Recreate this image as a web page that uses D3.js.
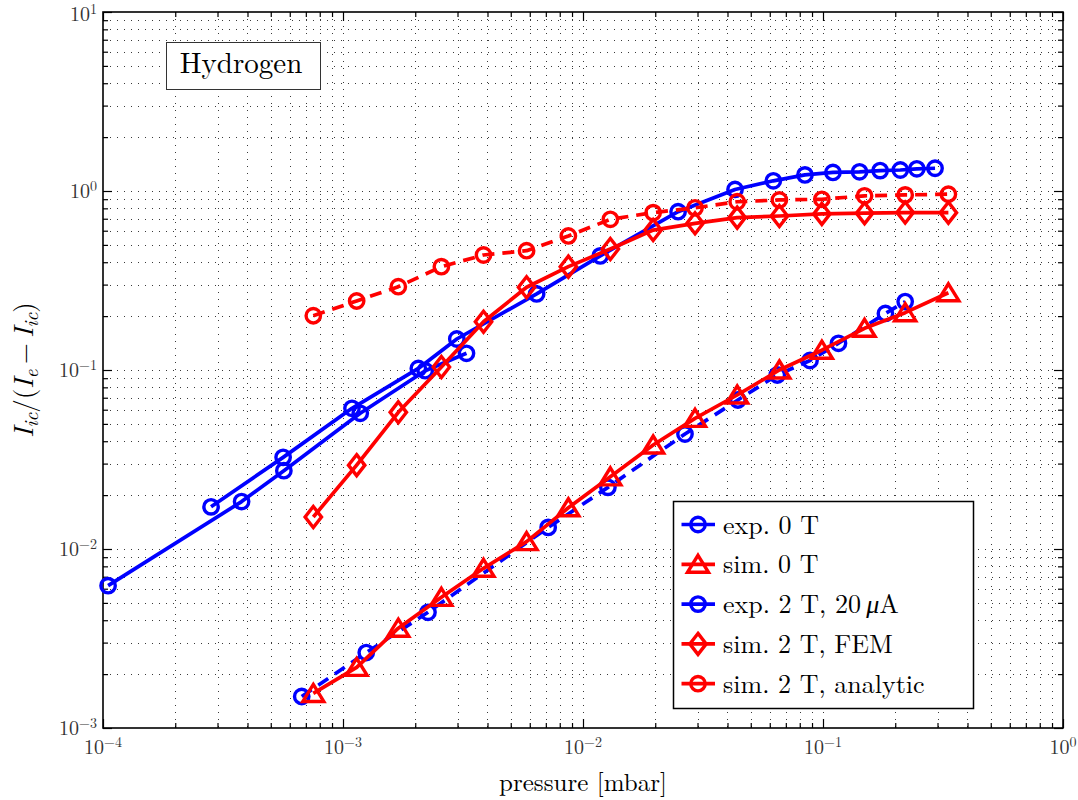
<!DOCTYPE html>
<html>
<head>
<meta charset="utf-8">
<script src="https://cdn.jsdelivr.net/npm/d3@7"></script>
<style>
  html, body { margin: 0; padding: 0; background: #fff; }
  svg { display: block; }
</style>
</head>
<body>
<svg id="chart" width="1078" height="800"></svg>
<script>
// Pressure grid shared by all simulation runs [mbar]
const pressureSim = [7.52e-4, 1.14e-3, 1.70e-3, 2.57e-3, 3.85e-3, 5.82e-3, 8.69e-3, 1.30e-2,
                     1.96e-2, 2.93e-2, 4.39e-2, 6.58e-2, 9.89e-2, 0.149, 0.220, 0.333];

// exp. 0 T
const pressureExp0 = [6.73e-4, 1.25e-3, 2.26e-3, 7.16e-3, 1.27e-2, 2.66e-2, 4.42e-2, 6.45e-2,
                      8.83e-2, 0.116, 0.182, 0.220];
const ratioExp0 = [1.50e-3, 2.64e-3, 4.43e-3, 1.32e-2, 2.21e-2, 4.39e-2, 6.80e-2, 9.38e-2,
                   0.113, 0.141, 0.207, 0.241];

// sim. 0 T
const ratioSim0 = [1.56e-3, 2.18e-3, 3.61e-3, 5.37e-3, 7.80e-3, 1.10e-2, 1.70e-2, 2.53e-2,
                   3.81e-2, 5.37e-2, 7.25e-2, 0.100, 0.129, 0.171, 0.209, 0.270];

// exp. 2 T, 20 uA : two pressure sweeps
const pressureExp2a = [1.05e-4, 3.78e-4, 5.67e-4, 1.18e-3, 2.20e-3, 3.27e-3];
const ratioExp2a = [6.24e-3, 1.84e-2, 2.74e-2, 5.73e-2, 9.91e-2, 0.124];
const pressureExp2b = [2.82e-4, 5.63e-4, 1.09e-3, 2.06e-3, 2.98e-3, 6.41e-3, 1.18e-2, 2.49e-2,
                       4.30e-2, 6.21e-2, 8.41e-2, 0.110, 0.142, 0.173, 0.210, 0.246, 0.293];
const ratioExp2b = [1.72e-2, 3.25e-2, 6.11e-2, 0.102, 0.149, 0.266, 0.434, 0.766,
                    1.02, 1.14, 1.23, 1.27, 1.28, 1.30, 1.31, 1.33, 1.34];

// sim. 2 T, FEM
const ratioSimFem = [1.51e-2, 2.94e-2, 5.80e-2, 0.104, 0.186, 0.290, 0.378, 0.474,
                     0.605, 0.660, 0.710, 0.725, 0.745, 0.752, 0.758, 0.757];

// sim. 2 T, analytic
const ratioSimAnalytic = [0.201, 0.243, 0.292, 0.378, 0.439, 0.464, 0.561, 0.695,
                          0.757, 0.805, 0.871, 0.891, 0.899, 0.940, 0.951, 0.960];

// Axis decades (exponents of ten)
const xTickExponents = [-4, -3, -2, -1, 0];
const yTickExponents = [-3, -2, -1, 0, 1];

const legendLabels = ["exp. 0 T", "sim. 0 T", "exp. 2 T, 20\u2009", "sim. 2 T, FEM", "sim. 2 T, analytic"];

const BLUE = "#0000ff", RED = "#ff0000";
const SERIF = "Latin Modern Roman";

const svg = d3.select("#chart");
const plotLeft = 103, plotRight = 1063, plotTop = 12, plotBottom = 728;

const x = d3.scaleLog().domain([1e-4, 1]).range([plotLeft, plotRight]);
const y = d3.scaleLog().domain([1e-3, 10]).range([plotBottom, plotTop]);

// tick positions: every integer multiple within each decade
function decadeTicks(exps) {
  const out = [];
  for (let i = 0; i < exps.length - 1; i++)
    for (let k = 1; k <= 9; k++) out.push(k * Math.pow(10, exps[i]));
  out.push(Math.pow(10, exps[exps.length - 1]));
  return out;
}
const xAll = decadeTicks(xTickExponents);
const yAll = decadeTicks(yTickExponents);
const xMajor = xTickExponents.map(e => Math.pow(10, e));
const yMajor = yTickExponents.map(e => Math.pow(10, e));
const isMajor = (list, v) => list.some(m => Math.abs(m - v) / m < 1e-9);

svg.append("rect").attr("width", 1078).attr("height", 800).attr("fill", "#fff");

// dotted grid
const grid = svg.append("g")
  .attr("stroke", "#3a3a3a").attr("stroke-width", 1)
  .attr("stroke-dasharray", "1 6");
grid.selectAll("line.gx").data(xAll.slice(1, -1)).join("line").attr("class", "gx")
  .attr("x1", d => Math.round(x(d)) + 0.5).attr("x2", d => Math.round(x(d)) + 0.5)
  .attr("y1", plotTop).attr("y2", plotBottom);
grid.selectAll("line.gy").data(yAll.slice(1, -1)).join("line").attr("class", "gy")
  .attr("y1", d => Math.round(y(d)) + 0.5).attr("y2", d => Math.round(y(d)) + 0.5)
  .attr("x1", plotLeft).attr("x2", plotRight);

// inward ticks on all four sides
function addAxis(axisFn, scale, values, size, transform) {
  const g = svg.append("g").attr("transform", transform)
    .call(axisFn(scale).tickValues(values).tickSize(size).tickFormat(""));
  g.select(".domain").remove();
  g.selectAll(".tick line").attr("stroke", "#000").attr("stroke-width", 1.2);
}
const xMinor = xAll.filter(v => !isMajor(xMajor, v));
const yMinor = yAll.filter(v => !isMajor(yMajor, v));
addAxis(d3.axisBottom, x, xMinor, -5, `translate(0,${plotBottom})`);
addAxis(d3.axisBottom, x, xMajor, -9, `translate(0,${plotBottom})`);
addAxis(d3.axisTop, x, xMinor, -5, `translate(0,${plotTop})`);
addAxis(d3.axisTop, x, xMajor, -9, `translate(0,${plotTop})`);
addAxis(d3.axisLeft, y, yMinor, -5, `translate(${plotLeft},0)`);
addAxis(d3.axisLeft, y, yMajor, -9, `translate(${plotLeft},0)`);
addAxis(d3.axisRight, y, yMinor, -5, `translate(${plotRight},0)`);
addAxis(d3.axisRight, y, yMajor, -9, `translate(${plotRight},0)`);

svg.append("rect").attr("x", plotLeft).attr("y", plotTop)
  .attr("width", plotRight - plotLeft).attr("height", plotBottom - plotTop)
  .attr("fill", "none").attr("stroke", "#000").attr("stroke-width", 1.6);

function addText(xp, yp, size) {
  return svg.append("text").attr("x", xp).attr("y", yp)
    .attr("font-family", SERIF).attr("font-size", size).attr("fill", "#000");
}

// tick labels as 10 with a superscript exponent
function powerLabel(sel, e) {
  sel.append("tspan").text("10");
  sel.append("tspan").attr("font-size", 14).attr("dy", -7)
    .text(e < 0 ? "\u2212" + Math.abs(e) : String(e));
}
xTickExponents.forEach(e => {
  const t = addText(x(Math.pow(10, e)), 754, 20).attr("text-anchor", "middle").attr("fill", "#333");
  powerLabel(t, e);
});
yTickExponents.forEach(e => {
  const t = addText(97, Math.max(y(Math.pow(10, e)) + 7, 21), 20).attr("text-anchor", "end").attr("fill", "#333");
  powerLabel(t, e);
});

// axis titles
addText(583, 791, 25).attr("text-anchor", "middle").text("pressure [mbar]");

const yTitle = svg.append("text")
  .attr("transform", "translate(33,370) rotate(-90)")
  .attr("font-family", SERIF)
  .attr("text-anchor", "middle").attr("font-size", 27);
const yTitleParts = [["I", "it"], ["ic", "sub"], ["/(", "up"], ["I", "it"], ["e", "sub"],
                     ["\u2009\u2212\u2009", "up"], ["I", "it"], ["ic", "sub"], [")", "up"]];
let prevSub = false;
yTitleParts.forEach(([s, kind]) => {
  const ts = yTitle.append("tspan").text(s);
  if (kind === "sub") {
    ts.attr("font-size", 19).attr("dy", 5).attr("font-style", "italic");
    prevSub = true;
  } else {
    if (prevSub) ts.attr("dy", -5);
    if (kind === "it") ts.attr("font-style", "italic");
    prevSub = false;
  }
});

// markers
const markers = {
  circle: (g) => g.append("circle").attr("r", 7.2),
  triangle: (g) => g.append("path").attr("d", "M0,-9L10.5,8L-10.5,8Z"),
  diamond: (g) => g.append("path").attr("d", "M0,-10.5L8.2,0L0,10.5L-8.2,0Z")
};

const lineGen = d3.line().x(d => x(d[0])).y(d => y(d[1]));

function drawSeries(px, py, color, dashed, marker) {
  const pts = px.map((p, i) => [p, py[i]]);
  svg.append("path").datum(pts).attr("d", lineGen)
    .attr("fill", "none").attr("stroke", color).attr("stroke-width", 3.7)
    .attr("stroke-linejoin", "round")
    .attr("stroke-dasharray", dashed ? "12 8" : null);
  const g = svg.append("g").attr("fill", "none").attr("stroke", color).attr("stroke-width", 3.4);
  pts.forEach(p => {
    const m = g.append("g").attr("transform", `translate(${x(p[0])},${y(p[1])})`);
    markers[marker](m);
  });
}

drawSeries(pressureExp0, ratioExp0, BLUE, true, "circle");
drawSeries(pressureSim, ratioSim0, RED, false, "triangle");
drawSeries(pressureExp2a, ratioExp2a, BLUE, false, "circle");
drawSeries(pressureExp2b, ratioExp2b, BLUE, false, "circle");
drawSeries(pressureSim, ratioSimFem, RED, false, "diamond");
drawSeries(pressureSim, ratioSimAnalytic, RED, true, "circle");

// gas label box
svg.append("rect").attr("x", 166.5).attr("y", 42.5).attr("width", 154).attr("height", 47)
  .attr("fill", "#fff").attr("stroke", "#333").attr("stroke-width", 1);
addText(241, 73, 29).attr("text-anchor", "middle").text("Hydrogen");

// legend
const legendStyles = [
  { color: BLUE, marker: "circle" },
  { color: RED, marker: "triangle" },
  { color: BLUE, marker: "circle" },
  { color: RED, marker: "diamond" },
  { color: RED, marker: "circle" }
];
svg.append("rect").attr("x", 673.5).attr("y", 501.5).attr("width", 300).attr("height", 207)
  .attr("fill", "#fff").attr("stroke", "#000").attr("stroke-width", 1.5);
legendLabels.forEach((label, i) => {
  const cy = 524.5 + i * 39.8;
  const st = legendStyles[i];
  svg.append("line").attr("x1", 681.5).attr("x2", 715).attr("y1", cy).attr("y2", cy)
    .attr("stroke", st.color).attr("stroke-width", 3.7);
  const m = svg.append("g").attr("transform", `translate(698,${cy})`)
    .attr("fill", "none").attr("stroke", st.color).attr("stroke-width", 3.4);
  markers[st.marker](m);
  const t = addText(723, cy + 9, 26).text(label);
  if (i === 2) {
    t.append("tspan").attr("font-style", "italic").text("\u03bc");
    t.append("tspan").text("A");
  }
});
</script>
</body>
</html>
